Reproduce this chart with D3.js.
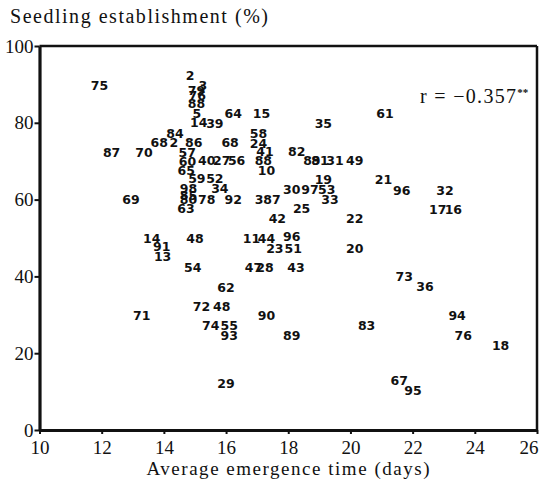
<!DOCTYPE html>
<html>
<head>
<meta charset="utf-8">
<script src="https://cdn.jsdelivr.net/npm/d3@7"></script>
<style>
  body { margin: 0; background: #fff; }
  .tick text { font-size: 19px; fill: #111; }
  .lbl { font-family: 'DejaVu Sans', sans-serif; font-weight: bold; font-size: 12.5px; fill: #111; }
</style>
</head>
<body>
<div id="vis"></div>
<script>
// genotype labels, emergence time (days), establishment (%)
const labels = ["75","2","3","79","76","88","5","14","39","64","15","84","58","68","2","86","68","24",
  "87","70","57","41","60","40","27","56","88","65","10","59","52","34","98","85","80","69","78","92",
  "38","7","63","35","61","82","89","81","31","49","19","30","97","53","33","25","21","96","32","17",
  "16","42","22","14","48","11","44","96","91","23","51","20","13","54","47","28","43","73","36","62",
  "72","48","71","90","94","74","55","83","93","89","76","18","29","67","95"];
const emergence = [11.93,14.84,15.25,15.05,15.07,15.05,15.06,15.12,15.64,16.23,17.14,14.36,17.04,13.85,14.32,14.96,16.13,17.04,
  12.32,13.36,14.75,17.25,14.76,15.38,15.86,16.34,17.2,14.72,17.3,15.06,15.64,15.8,14.79,14.79,14.79,12.94,15.38,16.23,
  17.2,17.62,14.71,19.13,21.11,18.27,18.76,19.02,19.5,20.14,19.13,18.11,18.7,19.24,19.34,18.43,21.06,21.65,23.04,22.81,
  23.31,17.65,20.14,13.61,15.0,16.82,17.3,18.11,13.93,17.57,18.16,20.14,13.96,14.93,16.88,17.25,18.25,21.73,22.4,16.0,
  15.21,15.86,13.29,17.3,23.43,15.51,16.1,20.52,16.1,18.11,23.63,24.83,16.0,21.57,22.01];
const establishment = [89.6,92.2,89.8,88.3,87.2,85.1,82.5,80.2,79.9,82.5,82.5,77.3,77.3,75.0,74.8,74.8,74.8,74.7,
  72.2,72.3,72.3,72.5,70.0,70.1,70.1,70.1,70.1,67.6,67.7,65.5,65.5,62.9,62.8,61.0,60.0,59.9,60.1,60.1,
  60.1,60.1,57.6,79.9,82.5,72.5,70.1,70.1,70.1,70.1,65.3,62.7,62.7,62.7,60.1,57.6,65.3,62.5,62.5,57.5,
  57.5,55.1,55.1,49.9,49.9,49.9,49.9,50.3,47.7,47.3,47.3,47.3,45.1,42.4,42.4,42.4,42.4,40.1,37.3,37.2,
  32.1,32.1,29.8,29.8,29.8,27.3,27.3,27.3,24.7,24.7,24.7,22.1,12.2,12.8,10.3];
const xTicks = [10, 12, 14, 16, 18, 20, 22, 24, 26];
const yTicks = [0, 20, 40, 60, 80, 100];
const serif = "Liberation Serif";

const data = labels.map((l, i) => ({ label: l, x: emergence[i], y: establishment[i] }));

const svg = d3.select("#vis").append("svg").attr("width", 545).attr("height", 482);
const x = d3.scaleLinear().domain([10, 26]).range([39.5, 537]);
const y = d3.scaleLinear().domain([0, 100]).range([430, 46]);

// frame top and right
svg.append("line").attr("x1", x(10)).attr("x2", x(26)).attr("y1", y(100)).attr("y2", y(100))
  .attr("stroke", "#111").attr("stroke-width", 2.5);
svg.append("line").attr("x1", x(26)).attr("x2", x(26)).attr("y1", y(100)).attr("y2", y(0))
  .attr("stroke", "#111").attr("stroke-width", 2.5);

const yAxis = svg.append("g").attr("transform", `translate(${x(10)},0)`)
  .call(d3.axisLeft(y).tickValues(yTicks).tickSize(5).tickSizeOuter(0).tickPadding(1));
yAxis.attr("font-family", serif);
yAxis.select(".domain").attr("stroke", "#111").attr("stroke-width", 3.2);
yAxis.selectAll(".tick line").attr("stroke", "#111").attr("stroke-width", 2);

const xAxis = svg.append("g").attr("transform", `translate(0,${y(0)})`)
  .call(d3.axisBottom(x).tickValues(xTicks).tickSize(4).tickSizeOuter(0).tickPadding(7));
xAxis.attr("font-family", serif);
xAxis.select(".domain").attr("stroke", "#111").attr("stroke-width", 3.2);
xAxis.selectAll(".tick line").attr("stroke", "#111").attr("stroke-width", 2);
// last label sits left of its tick, as in the print
xAxis.selectAll(".tick text").filter(d => d === 26).attr("text-anchor", "end").attr("x", 1);

svg.append("text").attr("font-family", serif).attr("x", 10).attr("y", 23)
  .attr("textLength", 258).attr("lengthAdjust", "spacing")
  .attr("font-size", 20).attr("fill", "#111")
  .text("Seedling establishment (%)");

svg.append("text").attr("font-family", serif).attr("x", 288).attr("y", 475).attr("text-anchor", "middle")
  .attr("textLength", 283).attr("lengthAdjust", "spacing")
  .attr("font-size", 19).attr("fill", "#111")
  .text("Average emergence time (days)");

const rt = svg.append("text").attr("font-family", serif).attr("x", 420).attr("y", 103)
  .attr("font-size", 20).attr("fill", "#111");
rt.append("tspan").attr("textLength", 96).attr("lengthAdjust", "spacing").text("r = −0.357");
rt.append("tspan").attr("dy", -7).attr("font-size", 11).attr("font-weight", "bold").text("**");

svg.append("g").selectAll("text.lbl").data(data).join("text")
  .attr("class", "lbl")
  .attr("x", d => x(d.x))
  .attr("y", d => y(d.y))
  .attr("dy", "0.36em")
  .attr("text-anchor", "middle")
  .text(d => d.label);
</script>
</body>
</html>
